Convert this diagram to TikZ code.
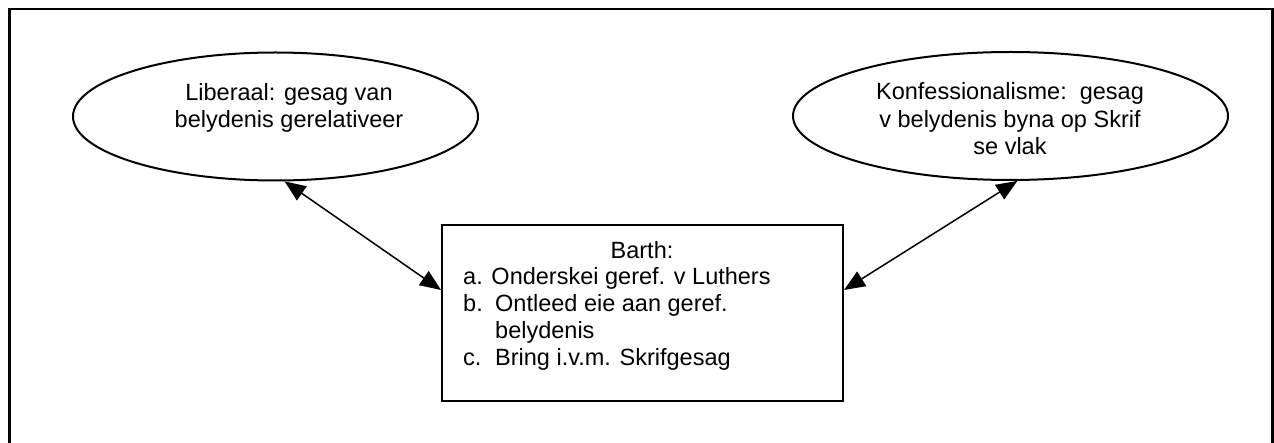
\documentclass[tikz,border=0pt]{standalone}
\usepackage{fontspec}
\setmainfont{Liberation Sans}
\usetikzlibrary{arrows.meta,shapes.geometric}
\begin{document}
\begin{tikzpicture}[x=1pt,y=-1pt,
  txt/.style={font=\fontsize{23.5}{27}\selectfont, inner sep=0pt, anchor=base},
  txtl/.style={txt, anchor=base west},
  oval/.style={draw, line width=2pt, ellipse, inner sep=0pt},
  boxnode/.style={draw, line width=2pt, rectangle, inner sep=0pt},
  link/.style={line width=1.5pt, {Triangle[length=21pt,width=17pt]}-{Triangle[length=21pt,width=17pt]}}]
\useasboundingbox (0,0) rectangle (1274,443);
\draw[line width=2.6pt] (9.5,450) -- (9.5,9) -- (1272.7,9) -- (1272.7,450);
% shapes
\node[oval, minimum width=405pt, minimum height=128pt] (L) at (275.5,116.5) {};
\node[oval, minimum width=435pt, minimum height=128pt] (R) at (1010.5,116) {};
\node[boxnode, minimum width=401pt, minimum height=176pt] (B) at (642.5,313) {};
% texts
\node[txt] (l1) at (289,101) {Liberaal: gesag van};
\node[txt] (l2) at (289,128) {belydenis gerelativeer};
\node[txt] (r1) at (1010,100) {Konfessionalisme:\ \ gesag};
\node[txt] (r2) at (1010,127.5) {v belydenis byna op Skrif};
\node[txt] (r3) at (1010,155) {se vlak};
\node[txt] (b0) at (642,259) {Barth:};
\node[txtl] (b1) at (463,285) {a. Onderskei geref. v Luthers};
\node[txtl] (b2) at (463,312) {\makebox[32pt][l]{b.}Ontleed eie aan geref.};
\node[txtl] (b3) at (495,339) {belydenis};
\node[txtl] (b4) at (463,366) {\makebox[32pt][l]{c.}Bring i.v.m. Skrifgesag};
% connectors
\draw[link] (L.-82) -- ([yshift=23pt]B.west);
\draw[link] (R.-84) -- ([yshift=23pt]B.east);
\end{tikzpicture}
\end{document}
